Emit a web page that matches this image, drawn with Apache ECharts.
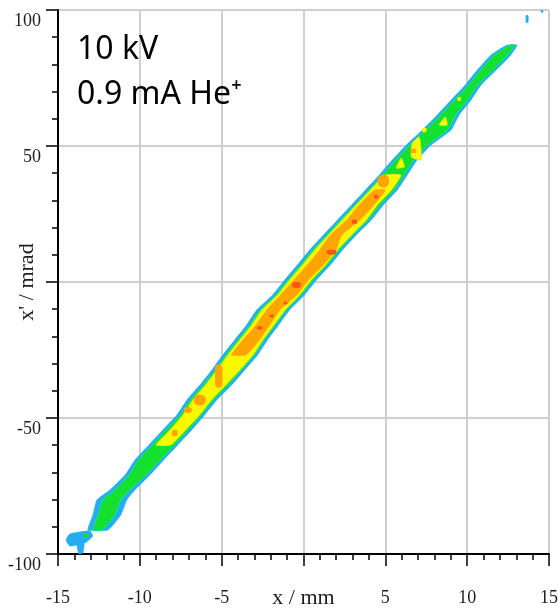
<!DOCTYPE html>
<html>
<head>
<meta charset="utf-8">
<script src="https://cdn.jsdelivr.net/npm/echarts@6/dist/echarts.min.js"></script>
<style>
html,body{margin:0;padding:0;background:#fff;}
#chart{width:558px;height:609px;}
</style>
</head>
<body>
<div id="chart"></div>
<script>
// ---- Axis ticks ----
const xTicks = [-15, -10, -5, 0, 5, 10, 15];
const yTicks = [-100, -50, 0, 50, 100];

// ---- Beam contour cross-sections (x' in mrad, x edges in mm) ----
const rowXp = [87.1, 83.5, 77.9, 72.4, 66.9, 61.4, 55.9, 50.4, 44.9, 39.3, 33.8, 28.3, 22.8, 17.3, 11.8, 6.3, 0.7, -4.8, -10.3, -15.8, -21.3, -26.8, -32.4, -37.9, -43.4, -48.9, -54.4, -59.9, -65.4, -71.0, -76.5, -80.1, -85.7, -91.2];
const blueL = [12.44, 11.46, 10.61, 9.88, 9.02, 8.17, 7.26, 6.28, 5.43, 4.63, 3.78, 2.93, 2.07, 1.22, 0.37, -0.37, -1.16, -1.89, -2.87, -3.48, -4.21, -4.94, -5.61, -6.34, -7.13, -7.74, -8.60, -9.45, -10.30, -10.91, -11.83, -12.62, -12.87, -13.17];
const blueR = [13.05, 12.68, 11.77, 10.85, 10.24, 9.51, 9.02, 7.80, 6.95, 6.34, 5.73, 4.88, 4.15, 3.23, 2.38, 1.65, 0.79, 0.06, -0.85, -1.52, -2.20, -2.80, -3.60, -4.39, -5.30, -6.04, -6.83, -7.68, -8.54, -9.39, -10.30, -10.79, -11.16, -11.95];
const greenL = [12.62, 11.66, 10.81, 10.08, 9.22, 8.37, 7.46, 6.48, 5.63, 4.83, 3.98, 3.13, 2.27, 1.42, 0.57, -0.17, -0.96, -1.69, -2.67, -3.28, -4.01, -4.74, -5.41, -6.14, -6.93, -7.54, -8.40, -9.25, -10.10, -10.67, -11.52, -12.26, -12.56, -12.87];
const greenR = [12.93, 12.48, 11.57, 10.65, 10.04, 9.31, 8.82, 7.60, 6.75, 6.14, 5.53, 4.68, 3.95, 3.03, 2.18, 1.45, 0.59, -0.14, -1.05, -1.72, -2.40, -3.00, -3.80, -4.59, -5.50, -6.24, -7.03, -7.88, -8.74, -9.63, -10.61, -11.16, -11.52, -12.32];

const yellowXp = [39.3, 33.8, 28.3, 22.8, 17.3, 11.8, 6.3, 0.7, -4.8, -10.3, -15.8, -21.3, -26.8, -32.4, -37.9, -43.4, -48.9, -54.4, -59.9];
const yellowL = [5.00, 4.08, 3.22, 2.37, 1.52, 0.68, -0.06, -0.86, -1.59, -2.55, -3.17, -3.90, -4.62, -5.30, -6.00, -6.78, -7.38, -8.15, -9.00];
const yellowR = [5.95, 5.38, 4.52, 3.84, 2.94, 2.08, 1.35, 0.48, -0.24, -1.12, -1.80, -2.48, -3.08, -3.90, -4.75, -5.62, -6.35, -7.20, -8.10];

const orangeXp = [33.8, 28.3, 22.8, 17.3, 11.8, 6.3, 0.7, -4.8, -10.3, -15.8, -21.3, -26.8];
const orangeL = [4.35, 3.40, 2.65, 1.65, 0.98, 0.24, -0.60, -1.40, -2.25, -2.90, -3.70, -4.40];
const orangeR = [5.00, 4.30, 3.45, 2.35, 1.98, 1.22, 0.30, -0.40, -1.45, -2.05, -2.70, -3.50];

// ---- Separate islands / patches (x mm, x' mrad) ----
const blueIslands = [
  [[-14.51, -94.9], [-14.27, -92.6], [-13.05, -91.5], [-12.87, -93.4], [-13.35, -96.0], [-14.27, -97.1]],
  [[-13.84, -96.3], [-13.41, -96.3], [-13.48, -99.6], [-13.72, -100]]
];
const yellowPatches = [
  [[6.65, 51.1], [7.07, 53.3], [7.20, 44.9], [6.59, 46.0]],
  [[8.29, 57.7], [8.66, 60.7], [8.78, 57.7]],
  [[5.67, 41.9], [5.98, 45.6], [6.16, 42.3]]
];
// spots: [x, x', extent in x (mm), extent in x' (mrad)]
const blueSpots = [[13.66, 96.7, 0.18, 3.0], [14.57, 99.5, 0.18, 1.0]];
const greenSpots = [[-13.29, -93.0, 0.35, 1.5]];
const yellowSpots = [[9.51, 67.3, 0.25, 1.5], [7.38, 55.9, 0.3, 1.8]];
const orangeSpots = [[4.88, 37.1, 0.7, 4.8], [6.71, 48.2, 0.4, 1.5], [-5.18, -34.6, 0.45, 8.5], [-6.34, -43.4, 0.75, 4.0], [-7.07, -47.1, 0.5, 2.2], [-7.87, -55.5, 0.35, 2.5]];
const redSpots = [[-0.43, -1.1, 0.55, 2.2], [1.71, 11.0, 0.6, 1.8], [3.11, 22.1, 0.35, 1.8], [-2.68, -16.9, 0.35, 1.2], [-1.95, -12.5, 0.3, 1.0], [4.45, 31.3, 0.3, 1.5], [-1.1, -7.7, 0.25, 1.1]];

// ---- Colours ----
const C = { blue: '#22aef0', green: '#14e02e', greenEdge: '#28dc9a', yellow: '#f8f800', orange: '#ffa400', red: '#ff5418' };

function band(xp, L, R) {
  const pts = [];
  for (let i = 0; i < xp.length; i++) pts.push([L[i], xp[i]]);
  for (let i = xp.length - 1; i >= 0; i--) pts.push([R[i], xp[i]]);
  return pts;
}

function polySeries(polys, fill, stroke, lw, smooth) {
  return {
    type: 'custom', coordinateSystem: 'cartesian2d', silent: true, clip: true, z: 3,
    data: polys.map(p => p[0]),
    renderItem: function (params, api) {
      const pts = polys[params.dataIndex].map(p => api.coord(p));
      return { type: 'polygon', shape: { points: pts, smooth: smooth || 0 },
        style: { fill: fill, stroke: stroke || fill, lineWidth: lw || 0 } };
    }
  };
}

function spotSeries(spots, fill) {
  return {
    type: 'custom', coordinateSystem: 'cartesian2d', silent: true, clip: true, z: 3,
    data: spots.map(s => [s[0], s[1]]),
    renderItem: function (params, api) {
      const s = spots[params.dataIndex];
      const c = api.coord([s[0], s[1]]);
      const sz = api.size([s[2], s[3]]);
      const w = Math.max(sz[0], 2), h = Math.max(sz[1], 2);
      return { type: 'rect', shape: { x: c[0] - w / 2, y: c[1] - h / 2, width: w, height: h, r: Math.min(w, h) / 2 },
        style: { fill: fill } };
    }
  };
}

const serif = 'Liberation Serif';
const labelColor = '#1c1c24';

const chart = echarts.init(document.getElementById('chart'), null, { renderer: 'canvas' });
chart.setOption({
  backgroundColor: '#fff',
  animation: false,
  grid: { left: 58, right: 9, top: 10, bottom: 55, containLabel: false, outerBoundsMode: 'none' },
  xAxis: {
    type: 'value', min: xTicks[0], max: xTicks[xTicks.length - 1], interval: xTicks[1] - xTicks[0],
    name: 'x / mm', nameLocation: 'middle', nameGap: 33, nameMoveOverlap: false,
    nameTextStyle: { fontFamily: serif, fontSize: 22, color: labelColor },
    axisLine: { show: true, onZero: false, lineStyle: { color: '#000', width: 2 } },
    axisTick: { show: true, inside: false, length: 12, lineStyle: { color: '#000', width: 1.5 } },
    minorTick: { show: true, splitNumber: 5, length: 6, lineStyle: { color: '#000', width: 1.5 } },
    axisLabel: { margin: 35, fontFamily: serif, fontSize: 18, color: labelColor, showMinLabel: true, showMaxLabel: true,
      formatter: v => (v === 0 ? '' : String(v)) },
    splitLine: { show: true, lineStyle: { color: '#cfcfcf', width: 2 } }
  },
  yAxis: {
    type: 'value', min: yTicks[0], max: yTicks[yTicks.length - 1], interval: yTicks[1] - yTicks[0],
    name: "x' / mrad", nameLocation: 'middle', nameGap: 20, nameRotate: 90, nameMoveOverlap: false,
    nameTextStyle: { fontFamily: serif, fontSize: 22, color: labelColor },
    axisLine: { show: true, onZero: false, lineStyle: { color: '#000', width: 2 } },
    axisTick: { show: true, inside: false, length: 12, lineStyle: { color: '#000', width: 1.5 } },
    minorTick: { show: true, splitNumber: 5, length: 6, lineStyle: { color: '#000', width: 1.5 } },
    axisLabel: { margin: 17, fontFamily: serif, fontSize: 18, color: labelColor, verticalAlign: 'top', padding: [2, 0, 0, 0],
      showMinLabel: true, showMaxLabel: true, formatter: v => (v === 0 ? '' : String(v)) },
    splitLine: { show: true, lineStyle: { color: '#cfcfcf', width: 2 } }
  },
  graphic: [
    { type: 'text', x: 77, y: 50, z: 100, style: { text: '10 kV', font: '32px "Noto Sans"', fill: '#000', verticalAlign: 'middle', align: 'left' } },
    { type: 'text', x: 77, y: 95, z: 100, style: { text: '0.9 mA He\u207A', font: '32px "Noto Sans"', fill: '#000', verticalAlign: 'middle', align: 'left' } }
  ],
  series: [
    polySeries([band(rowXp, blueL, blueR)].concat(blueIslands), C.blue, C.blue, 0.5, 0.15),
    spotSeries(blueSpots, C.blue),
    polySeries([band(rowXp, greenL, greenR)], C.green, C.greenEdge, 1, 0.15),
    spotSeries(greenSpots, C.green),
    polySeries([band(yellowXp, yellowL, yellowR)].concat(yellowPatches), C.yellow, '#d8f412', 0.8, 0.15),
    spotSeries(yellowSpots, C.yellow),
    polySeries([band(orangeXp, orangeL, orangeR)], C.orange, C.orange, 0.5, 0.15),
    spotSeries(orangeSpots, C.orange),
    spotSeries(redSpots, C.red)
  ]
});
</script>
</body>
</html>
